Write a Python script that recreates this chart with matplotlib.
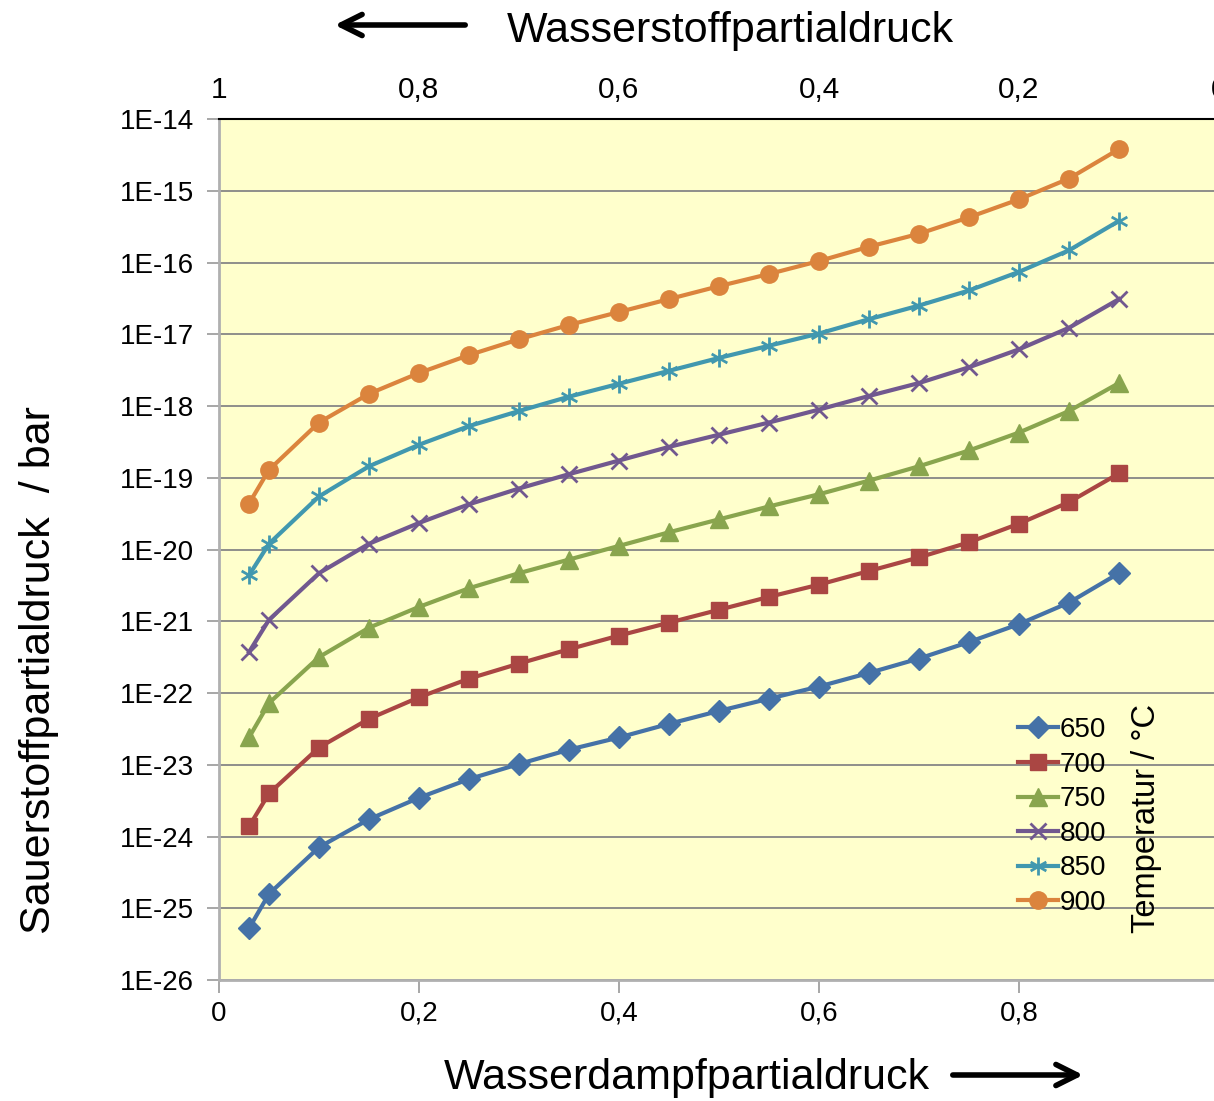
import matplotlib
matplotlib.use("Agg")
import matplotlib.pyplot as plt
from matplotlib.path import Path
import numpy as np

plt.rcParams['font.family'] = ['Liberation Sans', 'DejaVu Sans']

# Wasserdampfpartialdruck
x_h2o = [0.03, 0.05, 0.1, 0.15, 0.2, 0.25, 0.3, 0.35, 0.4, 0.45,
         0.5, 0.55, 0.6, 0.65, 0.7, 0.75, 0.8, 0.85, 0.9]

# log10 of Sauerstoffpartialdruck
log_650 = [-25.28, -24.80, -24.15, -23.76, -23.46, -23.20, -22.99, -22.79, -22.62, -22.43,
           -22.25, -22.08, -21.91, -21.72, -21.52, -21.29, -21.04, -20.74, -20.33]
log_700 = [-23.86, -23.40, -22.76, -22.36, -22.06, -21.80, -21.59, -21.39, -21.20, -21.02,
           -20.84, -20.66, -20.49, -20.30, -20.11, -19.90, -19.64, -19.34, -18.94]
log_750 = [-22.62, -22.14, -21.50, -21.09, -20.80, -20.54, -20.33, -20.14, -19.95, -19.76,
           -19.58, -19.40, -19.23, -19.04, -18.84, -18.62, -18.37, -18.07, -17.68]
log_800 = [-21.43, -20.98, -20.33, -19.92, -19.63, -19.37, -19.15, -18.95, -18.76, -18.57,
           -18.40, -18.23, -18.05, -17.86, -17.68, -17.46, -17.21, -16.91, -16.51]
log_850 = [-20.36, -19.92, -19.26, -18.84, -18.54, -18.28, -18.07, -17.87, -17.69, -17.51,
           -17.33, -17.16, -16.99, -16.79, -16.60, -16.39, -16.13, -15.83, -15.42]
log_900 = [-19.36, -18.89, -18.23, -17.83, -17.54, -17.29, -17.07, -16.87, -16.69, -16.51,
           -16.33, -16.16, -15.98, -15.78, -15.60, -15.37, -15.12, -14.83, -14.42]

temps = ["650", "700", "750", "800", "850", "900"]
series = [log_650, log_700, log_750, log_800, log_850, log_900]

colors = ["#4572A7", "#AA4643", "#89A54E", "#71588F", "#4198AF", "#DB843D"]

# excel-like star: x with a vertical bar
star = Path([(0, -1), (0, 1), (-0.87, -0.5), (0.87, 0.5), (-0.87, 0.5), (0.87, -0.5)],
            [Path.MOVETO, Path.LINETO, Path.MOVETO, Path.LINETO, Path.MOVETO, Path.LINETO])
markers = ["D", "s", "^", "x", star, "o"]
msizes = [11.5, 12, 12.5, 12, 13, 12.5]

W, H = 1214, 1101
fig = plt.figure(figsize=(W / 100, H / 100), dpi=100)
ax = fig.add_axes([219 / W, (H - 980) / H, 1000 / W, 861 / H])
ax.set_facecolor("#FFFFCC")

handles = []
for t, vals, c, m, ms in zip(temps, series, colors, markers, msizes):
    y = 10.0 ** np.array(vals)
    if m == "x" or m is star:
        h, = ax.plot(x_h2o, y, color=c, lw=3.0, marker=m, ms=ms, mew=2.0,
                     mfc="none", mec=c, label=t)
    else:
        h, = ax.plot(x_h2o, y, color=c, lw=3.0, marker=m, ms=ms, mec=c, mfc=c, label=t)
    handles.append(h)

ax.set_yscale("log")
ax.set_ylim(1e-26, 1e-14)
ax.set_xlim(0, 1)
ax.set_yticks([10.0 ** e for e in range(-26, -13)])
ax.set_yticklabels(["1E%d" % e for e in range(-26, -13)])
ax.minorticks_off()
ax.yaxis.grid(True, color="#868686", lw=1.3)
ax.set_axisbelow(True)

xt = [0, 0.2, 0.4, 0.6, 0.8]
ax.set_xticks(xt)
ax.set_xticklabels([("%g" % v).replace(".", ",") for v in xt])
ax.tick_params(axis="both", labelsize=20, length=9, width=1.3, color="#A0A0A0")
ax.tick_params(axis="y", pad=9)
ax.tick_params(axis="x", pad=6)

for s in ["left", "bottom"]:
    ax.spines[s].set_color("#B0B0B0")
    ax.spines[s].set_linewidth(2)
ax.spines["right"].set_visible(False)
ax.spines["top"].set_color("black")
ax.spines["top"].set_linewidth(1.5)

# Wasserstoffpartialdruck = 1 - Wasserdampfpartialdruck
top = ax.secondary_xaxis("top", functions=(lambda v: 1 - v, lambda v: 1 - v))
tt = [1, 0.8, 0.6, 0.4, 0.2, 0]
top.set_xticks(tt)
top.set_xticklabels([("%g" % v).replace(".", ",") for v in tt])
top.tick_params(labelsize=21.5, length=0, pad=11)
top.spines["top"].set_visible(False)

fig.text(730 / W, 1 - 41.7 / H, "Wasserstoffpartialdruck", fontsize=31,
         ha="center", va="baseline")
fig.text(687 / W, 1 - 1089 / H, "Wasserdampfpartialdruck", fontsize=31,
         ha="center", va="baseline")
fig.text(39 / W, 1 - 670 / H, "Sauerstoffpartialdruck  / bar", fontsize=31,
         rotation=90, ha="center", va="center")
fig.text(1147 / W, 1 - 818 / H, "Temperatur / °C", fontsize=23.5,
         rotation=90, ha="center", va="center")

ax.annotate("", xy=(332, H - 25), xytext=(468, H - 25), xycoords="figure pixels",
            textcoords="figure pixels",
            arrowprops=dict(arrowstyle="->", lw=4, color="black", mutation_scale=38))
ax.annotate("", xy=(1086, H - 1075), xytext=(950, H - 1075), xycoords="figure pixels",
            textcoords="figure pixels",
            arrowprops=dict(arrowstyle="->", lw=4, color="black", mutation_scale=38))

ax.legend(handles, temps, loc="upper left", bbox_to_anchor=(1018 / W, 1 - 717 / H),
          bbox_transform=fig.transFigure, frameon=False, fontsize=20,
          handlelength=1.45, handletextpad=0.05, labelspacing=0.31,
          borderpad=0, borderaxespad=0)

fig.savefig("out.png", dpi=100)
